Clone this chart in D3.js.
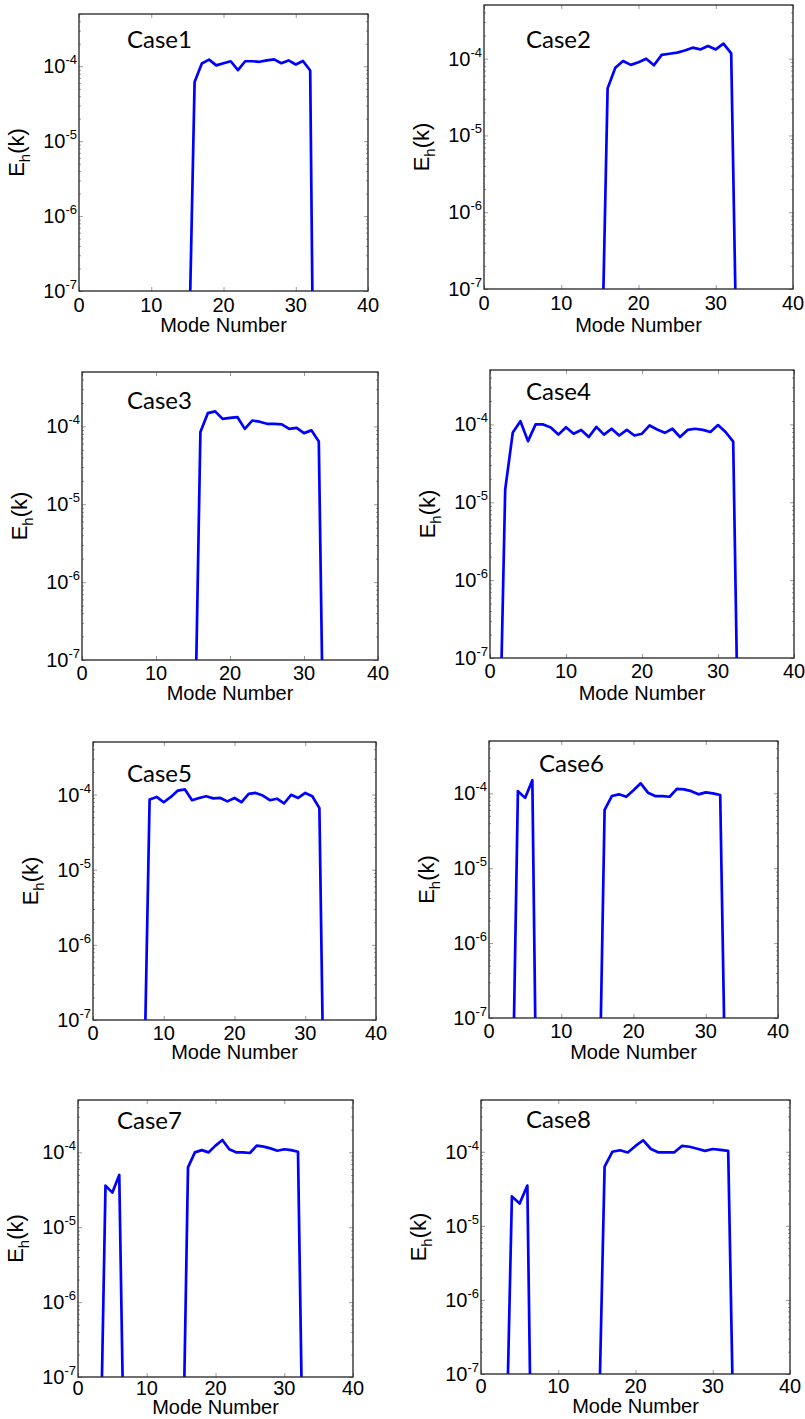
<!DOCTYPE html>
<html>
<head>
<meta charset="utf-8">
<script src="https://cdn.jsdelivr.net/npm/d3@7"></script>
<style>
  body { margin: 0; background: #fff; }
  text { font-family: "Liberation Sans", Arial, sans-serif; fill: #000; }
  .case { font-family: Lato, "Open Sans", sans-serif; font-size: 24px; }
</style>
</head>
<body>
<svg id="fig" width="805" height="1419"></svg>
<script>
// ---- data: mode number of the first entry, then E_h(k) for each mode ----
const case1Start = 15;
const case1E = [1.4e-9, 6.2e-5, 1.09e-4, 1.23e-4, 1.03e-4, 1.1e-4, 1.17e-4, 8.9e-5, 1.17e-4,
  1.17e-4, 1.15e-4, 1.2e-4, 1.24e-4, 1.1e-4, 1.2e-4, 1.06e-4, 1.18e-4, 8.8e-5, 1e-14];

const case2Start = 15;
const case2E = [6e-10, 4.1e-5, 7.6e-5, 9.3e-5, 8.3e-5, 9.0e-5, 1.0e-4, 8.2e-5, 1.12e-4,
  1.16e-4, 1.2e-4, 1.28e-4, 1.39e-4, 1.32e-4, 1.46e-4, 1.32e-4, 1.57e-4, 1.17e-4, 2e-10];

const case3Start = 15;
const case3E = [4e-10, 8.5e-5, 1.48e-4, 1.56e-4, 1.25e-4, 1.29e-4, 1.32e-4, 9.3e-5, 1.19e-4,
  1.15e-4, 1.08e-4, 1.08e-4, 1.06e-4, 9.3e-5, 9.6e-5, 8.2e-5, 8.9e-5, 6.4e-5, 2e-11];

const case4Start = 1;
const case4E = [4e-10, 1.46e-5, 7.9e-5, 1.1e-4, 6.1e-5, 1.0e-4, 1.0e-4, 9.1e-5, 7.4e-5, 9.2e-5,
  7.6e-5, 8.5e-5, 6.9e-5, 9.3e-5, 7.4e-5, 8.8e-5, 7.2e-5, 8.5e-5, 7.2e-5, 7.6e-5,
  9.7e-5, 8.6e-5, 7.8e-5, 8.8e-5, 6.9e-5, 8.5e-5, 8.8e-5, 8.5e-5, 8.0e-5, 9.8e-5,
  8.0e-5, 6.0e-5, 6e-11];

const case5Start = 7;
const case5E = [1e-9, 8.6e-5, 9.3e-5, 7.9e-5, 9.3e-5, 1.13e-4, 1.17e-4, 8.4e-5, 9.0e-5, 9.5e-5,
  8.9e-5, 9.0e-5, 8.1e-5, 9.0e-5, 7.9e-5, 1.02e-4, 1.05e-4, 9.7e-5, 8.4e-5, 8.8e-5,
  7.6e-5, 9.9e-5, 9.0e-5, 1.05e-4, 9.5e-5, 6.6e-5, 2.5e-11];

const case6Start = 3;
const case6E = [2.5e-10, 1.07e-4, 8.7e-5, 1.5e-4, 1.6e-12, 1e-12, 1e-12, 1e-12, 1e-12, 1e-12,
  1e-12, 1e-12, 2.5e-10, 6.0e-5, 9.2e-5, 9.7e-5, 9.0e-5, 1.1e-4, 1.36e-4, 1.02e-4,
  9.2e-5, 9.2e-5, 9.0e-5, 1.15e-4, 1.13e-4, 1.07e-4, 9.7e-5, 1.03e-4, 1.0e-4, 9.5e-5, 2.5e-10];

const case7Start = 3;
const case7E = [4e-10, 3.6e-5, 2.9e-5, 5.0e-5, 1.3e-10, 1e-12, 1e-12, 1e-12, 1e-12, 1e-12,
  1e-12, 1e-12, 3e-10, 6.3e-5, 1.0e-4, 1.07e-4, 1.0e-4, 1.23e-4, 1.46e-4, 1.1e-4,
  1.0e-4, 1.0e-4, 9.8e-5, 1.23e-4, 1.19e-4, 1.13e-4, 1.05e-4, 1.1e-4, 1.07e-4, 1.02e-4, 1e-10];

const case8Start = 3;
const case8E = [5e-10, 2.5e-5, 2.0e-5, 3.5e-5, 1e-12, 1e-12, 1e-12, 1e-12, 1e-12, 1e-12,
  1e-12, 1e-12, 1.3e-9, 6.3e-5, 1.0e-4, 1.05e-4, 9.8e-5, 1.2e-4, 1.43e-4, 1.09e-4,
  9.8e-5, 9.8e-5, 9.8e-5, 1.2e-4, 1.17e-4, 1.1e-4, 1.03e-4, 1.09e-4, 1.06e-4, 1.03e-4, 2.5e-10];

const caseNames = ["Case1", "Case2", "Case3", "Case4", "Case5", "Case6", "Case7", "Case8"];
const caseStarts = [case1Start, case2Start, case3Start, case4Start, case5Start, case6Start, case7Start, case8Start];
const caseValues = [case1E, case2E, case3E, case4E, case5E, case6E, case7E, case8E];

const xTicks = [0, 10, 20, 30, 40];
const yMajor = [1e-7, 1e-6, 1e-5, 1e-4];
const yExp = ["-7", "-6", "-5", "-4"];
const xDomain = [0, 40];
const yDomain = [1e-7, 5e-4];

// ---- layout of each panel (pixel box, label offsets) ----
const panels = [
  {l: 79,  t: 14,   r: 368, b: 291,  tk: 21, xl: 41, cx: 48, cy: 34},
  {l: 484, t: 5,    r: 793, b: 289,  tk: 21, xl: 43, cx: 42, cy: 43},
  {l: 82,  t: 372,  r: 378, b: 660,  tk: 20, xl: 40, cx: 45, cy: 37},
  {l: 490, t: 370,  r: 794, b: 658,  tk: 20, xl: 42, cx: 36, cy: 30},
  {l: 93,  t: 742,  r: 376, b: 1020, tk: 20, xl: 39, cx: 34, cy: 40},
  {l: 489, t: 741,  r: 778, b: 1018, tk: 20, xl: 41, cx: 50, cy: 31},
  {l: 78,  t: 1100, r: 353, b: 1377, tk: 18, xl: 37, cx: 39, cy: 29},
  {l: 481, t: 1100, r: 790, b: 1374, tk: 19, xl: 39, cx: 45, cy: 28}
];

const svg = d3.select("#fig");

panels.forEach((p, i) => drawPanel(p, i));

function drawPanel(p, i) {
  const w = p.r - p.l, h = p.b - p.t;
  const x = d3.scaleLinear().domain(xDomain).range([0, w]);
  const y = d3.scaleLog().domain(yDomain).range([h, 0]);

  const g = svg.append("g").attr("transform", `translate(${p.l},${p.t})`);

  g.append("clipPath").attr("id", "clip" + i)
    .append("rect").attr("width", w).attr("height", h);

  const yMinor = y.ticks().filter(v => !yMajor.some(m => Math.abs(m - v) / m < 1e-6));

  // inward ticks on all four sides
  const tickStyle = sel => {
    sel.select(".domain").remove();
    sel.selectAll(".tick line").attr("stroke", "#9a9a9a").attr("stroke-width", 1);
    sel.selectAll(".tick text").remove();
  };
  g.append("g").attr("transform", `translate(0,${h})`)
    .call(d3.axisBottom(x).tickValues(xTicks).tickSize(-4)).call(tickStyle);
  g.append("g")
    .call(d3.axisTop(x).tickValues(xTicks).tickSize(-4)).call(tickStyle);
  g.append("g")
    .call(d3.axisLeft(y).tickValues(yMajor).tickSize(-4)).call(tickStyle);
  g.append("g")
    .call(d3.axisLeft(y).tickValues(yMinor).tickSize(-2)).call(tickStyle);
  g.append("g").attr("transform", `translate(${w},0)`)
    .call(d3.axisRight(y).tickValues(yMajor).tickSize(-4)).call(tickStyle);
  g.append("g").attr("transform", `translate(${w},0)`)
    .call(d3.axisRight(y).tickValues(yMinor).tickSize(-2)).call(tickStyle);

  // x tick labels
  g.selectAll(".xlab").data(xTicks).enter().append("text")
    .attr("x", d => x(d)).attr("y", h + p.tk)
    .attr("text-anchor", "middle").style("font-size", "20px")
    .text(d => d);

  // y tick labels 10^n
  const yl = g.selectAll(".ylab").data(yMajor).enter().append("text")
    .attr("x", -2).attr("y", d => y(d) + 7)
    .attr("text-anchor", "end").style("font-size", "20px");
  yl.append("tspan").text("10");
  yl.append("tspan").attr("dy", -9).style("font-size", "13px").text((d, k) => yExp[k]);

  // axis titles
  g.append("text").attr("x", w / 2).attr("y", h + p.xl)
    .attr("text-anchor", "middle").style("font-size", "20px").text("Mode Number");

  const yt = g.append("text")
    .attr("transform", `translate(-55,${h / 2}) rotate(-90)`)
    .attr("text-anchor", "middle").style("font-size", "22px");
  yt.append("tspan").text("E");
  yt.append("tspan").attr("dy", 6).style("font-size", "15px").text("h");
  yt.append("tspan").attr("dy", -6).text("(k)");

  // the spectrum
  const pts = caseValues[i].map((v, k) => [caseStarts[i] + k, v]);
  const line = d3.line().x(d => x(d[0])).y(d => y(d[1]));
  g.append("path").datum(pts)
    .attr("clip-path", `url(#clip${i})`)
    .attr("d", line)
    .attr("fill", "none").attr("stroke", "#0000ff")
    .attr("stroke-width", 2.7).attr("stroke-linejoin", "round");

  // box
  g.append("rect").attr("width", w).attr("height", h)
    .attr("fill", "none").attr("stroke", "#222").attr("stroke-width", 1.3);

  g.append("text").attr("class", "case")
    .attr("x", p.cx).attr("y", p.cy).text(caseNames[i]);
}
</script>
</body>
</html>
